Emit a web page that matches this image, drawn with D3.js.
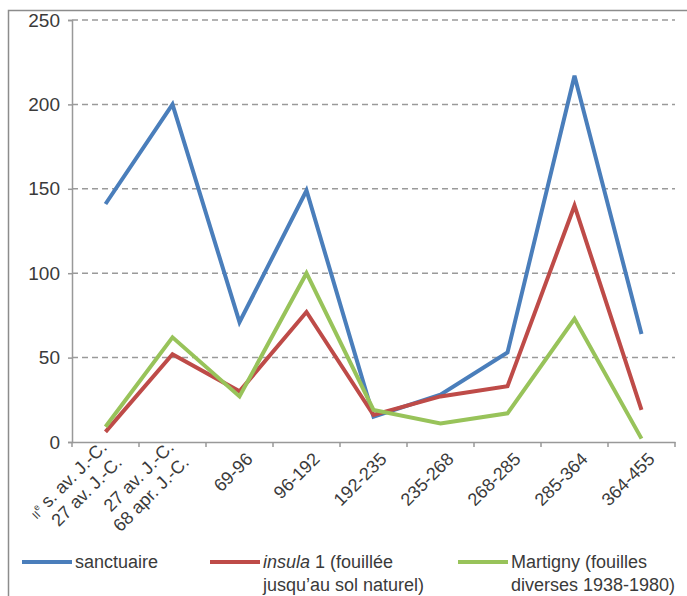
<!DOCTYPE html>
<html>
<head>
<meta charset="utf-8">
<script src="https://cdn.jsdelivr.net/npm/d3@7"></script>
<style>
  body { margin: 0; background: #fff; }
  text { font-family: "Liberation Sans", Arial, sans-serif; fill: #3a3a3a; }
</style>
</head>
<body>
<div id="chart"></div>
<script>
// categories (periods); each entry is a list of label lines
const periods = ['IIe-27', '27-68', '69-96', '96-192', '192-235', '235-268', '268-285', '285-364', '364-455'];
const periodLabels = [
  ['II|e s. av. J.-C.', '27 av. J.-C.'],
  ['27 av. J.-C.', '68 apr. J.-C.'],
  ['69-96'], ['96-192'], ['192-235'], ['235-268'], ['268-285'], ['285-364'], ['364-455']
];
const yTicks = [0, 50, 100, 150, 200, 250];

// series values
const sanctuaire = [141, 200, 71, 149, 15, 28, 53, 217, 64];
const insula = [6, 52, 30, 77, 16, 27, 33, 140, 19];
const martigny = [9, 62, 27, 100, 19, 11, 17, 73, 2];

const seriesNames = ['sanctuaire', 'insula', 'martigny'];
const seriesColors = ['#4a7ebb', '#be4b48', '#98c35a'];

function drawChart() {
  const width = 687, height = 596;
  const margin = {top: 20, right: 12, bottom: 154, left: 72};
  const cWidth = width - margin.left - margin.right;
  const cHeight = height - margin.top - margin.bottom;

  const svg = d3.select('#chart').append('svg')
    .attr('width', width).attr('height', height);

  // outer frame
  svg.append('rect')
    .attr('x', 8.5).attr('y', 10.5)
    .attr('width', 700).attr('height', 700)
    .attr('fill', 'none')
    .attr('stroke', '#8c8c8c')
    .attr('stroke-width', 1.5);

  const g = svg.append('g').attr('transform', `translate(${margin.left},${margin.top})`);

  const x = d3.scaleBand().domain(periods).range([0, cWidth]);
  const y = d3.scaleLinear().domain([0, 250]).range([cHeight, 0]);

  // dashed gridlines
  g.selectAll('.grid')
    .data(yTicks.filter(d => d > 0))
    .enter().append('line')
    .attr('x1', 0).attr('x2', cWidth)
    .attr('y1', d => y(d)).attr('y2', d => y(d))
    .attr('stroke', '#9a9a9a')
    .attr('stroke-width', 1.5)
    .attr('stroke-dasharray', '6,4');

  // y axis
  const yAxis = g.append('g')
    .call(d3.axisLeft(y).tickValues(yTicks).tickSize(4).tickPadding(8));
  yAxis.select('.domain').attr('stroke', '#999').attr('stroke-width', 1.5);
  yAxis.selectAll('.tick line').attr('stroke', '#999').attr('stroke-width', 1.5);
  yAxis.selectAll('.tick text')
    .style('font-size', '19px')
    .attr('fill', '#3a3a3a');

  // x axis
  const xAxis = g.append('g')
    .attr('transform', `translate(0,${cHeight})`)
    .call(d3.axisBottom(x).tickSize(0).tickFormat(''));
  xAxis.select('.domain').attr('stroke', '#999').attr('stroke-width', 1.5);
  // category boundary ticks
  g.selectAll('.xtick')
    .data(periods.concat(['end']))
    .enter().append('line')
    .attr('x1', (d, i) => i * x.bandwidth())
    .attr('x2', (d, i) => i * x.bandwidth())
    .attr('y1', cHeight).attr('y2', cHeight + 5)
    .attr('stroke', '#999').attr('stroke-width', 1.5);

  // rotated category labels
  const labels = g.selectAll('.xlabel')
    .data(periods)
    .enter().append('text')
    .attr('class', 'xlabel')
    .attr('text-anchor', 'end')
    .attr('transform', d => `translate(${x(d) + x.bandwidth() / 2 + 10},${cHeight + 14}) rotate(-45)`)
    .style('font-size', '18px');
  labels.each(function(d, i) {
    const lines = periodLabels[i];
    const t = d3.select(this);
    const base = lines.length > 1 ? 0 : 6;
    lines.forEach((ln, j) => {
      const dy = (j - (lines.length - 1) / 2) * 21 + base;
      if (ln.indexOf('|') >= 0) {
        const parts = ln.split('|');
        const rest = parts[1].slice(1);
        const ts = t.append('tspan').attr('x', 0).attr('y', dy);
        ts.append('tspan').text(parts[0]).style('font-size', '11px');
        ts.append('tspan').text(parts[1][0]).style('font-size', '9px').attr('dy', -6);
        ts.append('tspan').text(rest).attr('dy', 6);
      } else {
        t.append('tspan').attr('x', 0).attr('y', dy).text(ln);
      }
    });
  });

  // series lines
  const line = d3.line()
    .x((d, i) => x(periods[i]) + x.bandwidth() / 2)
    .y(d => y(d));

  [sanctuaire, insula, martigny].forEach((vals, k) => {
    g.append('path')
      .datum(vals)
      .attr('fill', 'none')
      .attr('stroke', seriesColors[k])
      .attr('stroke-width', 4)
      .attr('stroke-linejoin', 'miter')
      .attr('d', line);
  });

  // legend
  const legendY = 562;
  const legendItems = [
    {x: 22, lines: [['', 'sanctuaire']]},
    {x: 210, lines: [['insula', ' 1 (fouillée'], ['', 'jusqu\u2019au sol naturel)']]},
    {x: 458, lines: [['', 'Martigny (fouilles'], ['', 'diverses 1938-1980)']]}
  ];
  legendItems.forEach((item, k) => {
    svg.append('line')
      .attr('x1', item.x).attr('x2', item.x + 50)
      .attr('y1', legendY).attr('y2', legendY)
      .attr('stroke', seriesColors[k])
      .attr('stroke-width', 4);
    const t = svg.append('text')
      .attr('x', item.x + 53).attr('y', legendY + 6)
      .style('font-size', '18px');
    item.lines.forEach((ln, j) => {
      const ts = t.append('tspan').attr('x', item.x + 53).attr('y', legendY + 6 + j * 23);
      if (ln[0]) ts.append('tspan').text(ln[0]).style('font-style', 'italic');
      ts.append('tspan').text(ln[1]);
    });
  });
}

drawChart();
</script>
</body>
</html>
